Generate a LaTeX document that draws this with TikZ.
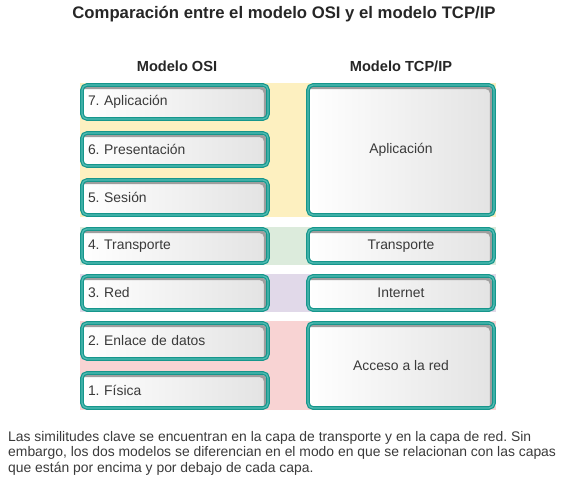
\documentclass[tikz,border=0pt]{standalone}
\usepackage{fontspec}
\setmainfont{Liberation Sans}
\usepackage{tikz}

\definecolor{tealdark}{HTML}{16968C}
\definecolor{teallight}{HTML}{52BDB4}
\definecolor{txtgray}{HTML}{3A3A3A}
\definecolor{bandyellow}{HTML}{FDF0C0}
\definecolor{bandgreen}{HTML}{DCEBDC}
\definecolor{bandlilac}{HTML}{E1D9E9}
\definecolor{bandpink}{HTML}{F8D3D3}

\tikzset{
	layer/.style={rounded corners=5pt, draw=tealdark, double=teallight,
		double distance=1.3pt, line width=1.2pt, left color=white, right color=black!11,
		inner sep=0pt, font=\fontsize{13.9}{15}\selectfont, text=txtgray,
		path picture={
			\draw[line width=3pt, black!38]
				([xshift=-2.7pt]path picture bounding box.south east)
				-- ([xshift=-2.7pt,yshift=-2.7pt]path picture bounding box.north east)
				-- ([yshift=-2.7pt]path picture bounding box.north west);
		}},
	osi/.style={layer, minimum width=186pt, text width=174pt, align=left},
	tcp/.style={layer, minimum width=186pt, align=center}
}

\begin{document}
\frenchspacing
\begin{tikzpicture}[x=1pt, y=-1pt]
\useasboundingbox (0,0) rectangle (568,481);

%Bands
\fill[bandyellow] (80,83) rectangle (496,217);
\fill[bandgreen] (80,227) rectangle (496,265);
\fill[bandlilac] (80,274) rectangle (496,312);
\fill[bandpink] (80,321) rectangle (496,410);

%Titles
\node[font=\bfseries\fontsize{16.7}{19}\selectfont, text=black!85] (title) at (284,14) {Comparación entre el modelo OSI y el modelo TCP/IP};
\node[font=\bfseries\fontsize{14.6}{17}\selectfont, text=black!85] (hosi) at (177,66) {Modelo OSI};
\node[font=\bfseries\fontsize{14.6}{17}\selectfont, text=black!85] (htcp) at (401,66) {Modelo TCP/IP};

\begin{scope}[every node/.style={osi}]
	%OSI
	\node[minimum height=34pt] (osi7) at (175,102) {7. Aplicación};
	\node[minimum height=33pt] (osi6) at (175,149.5) {6. Presentación};
	\node[minimum height=35pt] (osi5) at (175,197.5) {5. Sesión};
	\node[minimum height=34pt] (osi4) at (175,246) {4. Transporte};
	\node[minimum height=34pt] (osi3) at (175,293) {3. Red};
	\node[minimum height=36pt] (osi2) at (175,341) {2. Enlace de datos};
	\node[minimum height=35pt] (osi1) at (175,390.5) {1. Física};
\end{scope}

\begin{scope}[every node/.style={tcp}]
	%TCP/IP
	\node[minimum height=130pt] (app) at (401,150) {Aplicación};
	\node[minimum height=34pt] (trans) at (401,246) {Transporte};
	\node[minimum height=34pt] (inet) at (401,293) {Internet};
	\node[minimum height=85pt] (acc) at (401,365.5) {Acceso a la red};
\end{scope}

%Caption
\node[anchor=north west, align=left, inner sep=0pt, text=txtgray,
	font=\fontsize{13.9}{15.5}\selectfont] (note) at (8,431)
	{Las similitudes clave se encuentran en la capa de transporte y en la capa de red. Sin\\
	embargo, los dos modelos se diferencian en el modo en que se relacionan con las capas\\
	que están por encima y por debajo de cada capa.};

\end{tikzpicture}
\end{document}
